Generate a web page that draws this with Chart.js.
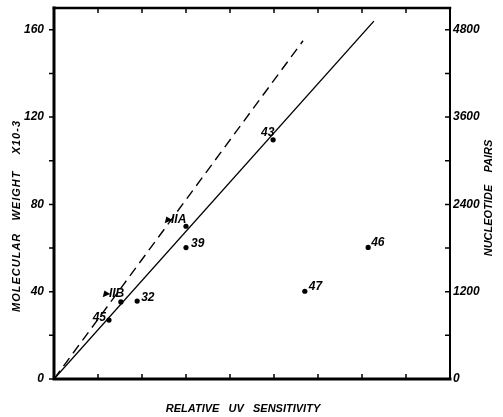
<!DOCTYPE html>
<html><head><meta charset="utf-8">
<script src="https://cdn.jsdelivr.net/npm/chart.js@4"></script>
<style>html,body{margin:0;padding:0;background:#fff}#wrap{width:503px;height:417px}</style>
</head><body><div id="wrap"><canvas id="c" width="503" height="417"></canvas></div>
<script>
// ---- data ----
const strainLabels = ['45', '▸IIB', '32', '▸IIA', '39', '43', '47', '46'];
const uvSensitivity = [1.25, 1.52, 1.89, 3.0, 3.0, 4.98, 5.70, 7.14];
const molWeight = [27.0, 35.3, 35.7, 70.0, 60.2, 109.6, 40.2, 60.3];
const solidLineX = [0, 7.27];
const solidLineY = [0, 164];
const dashedLineX = [0, 5.66];
const dashedLineY = [0, 155];
const yTickValues = [0, 40, 80, 120, 160];
const yMinorValues = [20, 60, 100, 140];
const y2TickValues = [0, 1200, 2400, 3600, 4800];
const y2MinorValues = [600, 1800, 3000, 4200];
const xTickValues = [1, 2, 3, 4, 5, 6, 7, 8];
const xTitle = 'RELATIVE   UV   SENSITIVITY';
const yTitle = 'MOLECULAR   WEIGHT    X10-3';
const y2Title = 'NUCLEOTIDE    PAIRS';

// label placement styles (pixel offsets from each point)
const labelStyle = [
  {dx: -3, dy: -2, align: 'right'},
  {dx: -18, dy: -8, align: 'left'},
  {dx: 4, dy: -3, align: 'left'},
  {dx: -21, dy: -7, align: 'left'},
  {dx: 5, dy: -4, align: 'left'},
  {dx: -12, dy: -7, align: 'left'},
  {dx: 4, dy: -5, align: 'left'},
  {dx: 3, dy: -5, align: 'left'}
];

const FONT = 'Liberation Sans';
const tickFont = {family: FONT, size: 12, style: 'italic', weight: 'bold'};

const framePlugin = {
  id: 'frame',
  afterDraw(chart) {
    const c = chart.ctx, a = chart.chartArea;
    const xs = chart.scales.x, ys = chart.scales.y, y2 = chart.scales.y2;
    c.save();
    c.strokeStyle = '#000';
    c.lineCap = 'square';
    // box
    c.lineWidth = 3;
    c.beginPath(); c.moveTo(a.left, a.top); c.lineTo(a.left, a.bottom); c.lineTo(a.right, a.bottom); c.stroke();
    c.lineWidth = 2.5;
    c.beginPath(); c.moveTo(a.left, a.top); c.lineTo(a.right, a.top); c.stroke();
    c.lineWidth = 2;
    c.beginPath(); c.moveTo(a.right, a.top); c.lineTo(a.right, a.bottom); c.stroke();
    // ticks
    c.lineWidth = 1.5;
    c.lineCap = 'butt';
    c.beginPath();
    yTickValues.concat(yMinorValues).forEach(v => {
      const p = ys.getPixelForValue(v);
      c.moveTo(a.left - 5, p); c.lineTo(a.left, p);
    });
    y2TickValues.concat(y2MinorValues).forEach(v => {
      if (v === 0) return;
      const p = y2.getPixelForValue(v);
      c.moveTo(a.right - 5, p); c.lineTo(a.right, p);
    });
    xTickValues.forEach(v => {
      const p = xs.getPixelForValue(v);
      c.moveTo(p, a.bottom); c.lineTo(p, a.bottom - 5);
      c.moveTo(p, a.top); c.lineTo(p, a.top + 5);
    });
    c.stroke();

    // point labels
    c.fillStyle = '#000';
    c.font = 'italic bold 12px ' + FONT;
    c.textBaseline = 'middle';
    const meta = chart.getDatasetMeta(0);
    meta.data.forEach((el, i) => {
      const s = labelStyle[i];
      c.textAlign = s.align;
      c.fillText(strainLabels[i], el.x + s.dx, el.y + s.dy);
    });

    // axis titles
    c.font = 'italic bold 11px ' + FONT;
    c.textAlign = 'center';
    c.textBaseline = 'middle';
    c.fillText(xTitle, 243, 409);
    c.save();
    c.translate(17, 216);
    c.rotate(-Math.PI / 2);
    c.letterSpacing = '1px';
    c.fillText(yTitle, 0, 0);
    c.restore();
    c.save();
    c.translate(489, 198);
    c.rotate(-Math.PI / 2);
    c.fillText(y2Title, 0, 0);
    c.restore();
    c.restore();
  }
};

new Chart(document.getElementById('c'), {
  type: 'scatter',
  data: {
    datasets: [
      {
        label: 'strains',
        data: uvSensitivity.map((x, i) => ({x, y: molWeight[i]})),
        pointRadius: 2.6, pointBackgroundColor: '#000', pointBorderColor: '#000', pointBorderWidth: 0,
        showLine: false
      },
      {
        label: 'solid',
        data: solidLineX.map((x, i) => ({x, y: solidLineY[i]})),
        showLine: true, borderColor: '#000', borderWidth: 1.4, pointRadius: 0, fill: false
      },
      {
        label: 'dashed',
        data: dashedLineX.map((x, i) => ({x, y: dashedLineY[i]})),
        showLine: true, borderColor: '#000', borderWidth: 1.4, borderDash: [10, 6], pointRadius: 0, fill: false
      }
    ]
  },
  options: {
    responsive: false, animation: false, devicePixelRatio: 1,
    layout: {padding: {top: 8, left: 0, right: 0, bottom: 0}},
    plugins: {legend: {display: false}, tooltip: {enabled: false}},
    scales: {
      x: {
        type: 'linear', min: 0, max: 9,
        grid: {display: false, drawTicks: false}, border: {display: false},
        ticks: {display: false},
        afterFit(s) { s.height = 38; s.paddingLeft = 0; s.paddingRight = 0; }
      },
      y: {
        type: 'linear', position: 'left', min: 0, max: 170,
        afterBuildTicks(s) { s.ticks = yTickValues.map(v => ({value: v})); },
        grid: {display: false, drawTicks: false}, border: {display: false},
        ticks: {padding: 10, color: '#000', font: tickFont, autoSkip: false, callback: v => String(v)},
        afterFit(s) { s.width = 54; s.paddingTop = 0; s.paddingBottom = 0; }
      },
      y2: {
        type: 'linear', position: 'right', min: 0, max: 5100,
        afterBuildTicks(s) { s.ticks = y2TickValues.map(v => ({value: v})); },
        grid: {display: false, drawTicks: false}, border: {display: false},
        ticks: {padding: 3, color: '#000', font: tickFont, autoSkip: false, callback: v => String(v)},
        afterFit(s) { s.width = 53; s.paddingTop = 0; s.paddingBottom = 0; }
      }
    }
  },
  plugins: [framePlugin]
});
</script>
</body></html>
